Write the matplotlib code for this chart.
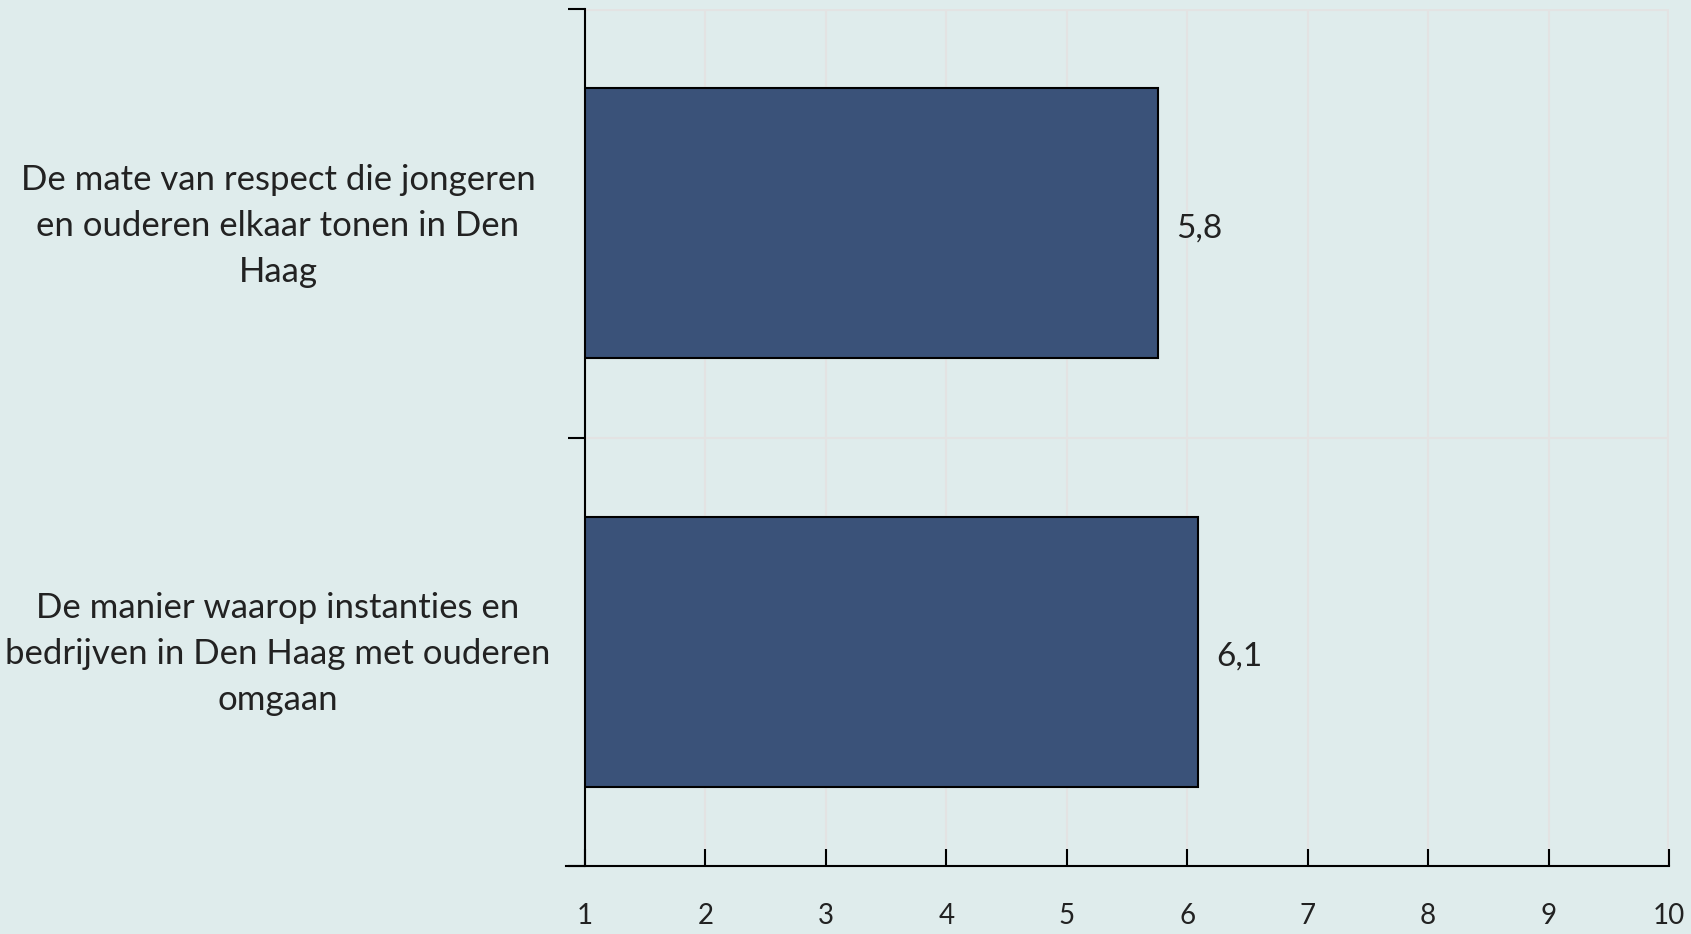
import matplotlib
matplotlib.use("Agg")
import matplotlib.pyplot as plt
from matplotlib.transforms import ScaledTranslation, blended_transform_factory

categories = [
    "De mate van respect die jongeren\nen ouderen elkaar tonen in Den\nHaag",
    "De manier waarop instanties en\nbedrijven in Den Haag met ouderen\nomgaan",
]
values = [5.76, 6.09]
value_labels = ["5,8", "6,1"]
xticks = [1, 2, 3, 4, 5, 6, 7, 8, 9, 10]

bg = "#DFECEC"
bar_color = "#3A5279"
plt.rcParams['font.family'] = ['Lato', 'DejaVu Sans']

fig = plt.figure(figsize=(16.91, 9.34), dpi=100, facecolor=bg)
ax = fig.add_axes([585/1691, 1-866/934, (1669-585)/1691, (866-9)/934])
ax.set_facecolor(bg)

ypos = [0, 1]
ax.barh(ypos, [v - 1 for v in values], left=1, height=0.63, color=bar_color,
        edgecolor="black", linewidth=1.5, zorder=3)
down = ScaledTranslation(0, -5/100, fig.dpi_scale_trans)
for y, v, lab in zip(ypos, values, value_labels):
    ax.text(v + 0.15, y, lab, va="center", ha="left", fontsize=24, color="#222222",
            transform=ax.transData + down)

# category labels, centered ~307 px left of the y axis
lbl_tr = blended_transform_factory(ax.transAxes, ax.transData) + \
    ScaledTranslation(-307/100, -2.5/100, fig.dpi_scale_trans)
for y, cat in zip(ypos, categories):
    ax.text(0, y, cat, ha="center", va="center", fontsize=25, color="#222222",
            linespacing=1.53, transform=lbl_tr, multialignment="center")

ax.set_xlim(1, 10)
ax.set_ylim(1.5, -0.5)
ax.set_xticks(xticks)
ax.set_xticklabels([str(t) for t in xticks], fontsize=20, color="#222222")
ax.grid(axis="x", color="#E3E3E3", linewidth=1.5, zorder=0)
ax.set_yticks([-0.5, 0.5, 1.5])
ax.set_yticklabels([])
ax.tick_params(axis="y", length=12, width=1.5, direction="out")
ax.tick_params(axis="x", length=12, width=1.5, direction="in", pad=27)
ax.axhline(0.5, color="#E3E3E3", linewidth=1.5, zorder=0)
ax.axhline(-0.5, color="#E3E3E3", linewidth=3, zorder=0)

for s in ["top", "right"]:
    ax.spines[s].set_visible(False)
ax.spines["left"].set_linewidth(1.5)
ax.spines["bottom"].set_linewidth(1.5)
ax.spines["bottom"].set_bounds(1 - 19/1084*9, 10)
ax.plot([10, 10], [1.5, -0.5], color="#E3E3E3", linewidth=3, zorder=0)

fig.savefig("out.png", dpi=100, facecolor=bg)
